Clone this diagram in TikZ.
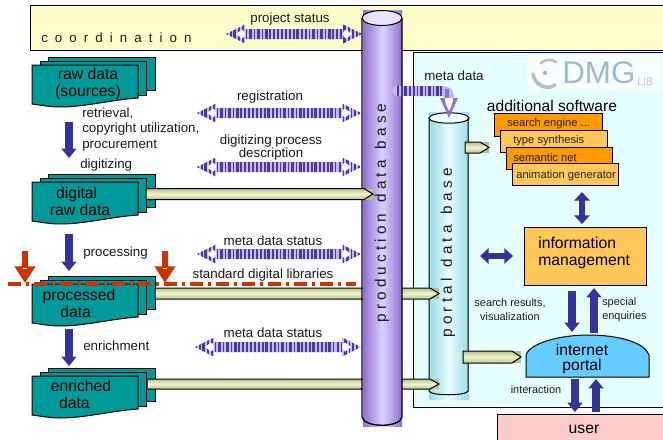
\documentclass[tikz,border=0pt]{standalone}
\usepackage{fontspec}
\setmainfont{Liberation Sans}
\newfontfamily\coordfont[LetterSpace=53]{Liberation Sans}
\newfontfamily\cylfont[LetterSpace=27]{Liberation Sans}
\usetikzlibrary{calc,arrows.meta}
\definecolor{coordfill}{HTML}{FFFFCC}
\definecolor{panelfill}{HTML}{E6FFFF}
\definecolor{teal}{HTML}{009999}
\definecolor{bluearrow}{HTML}{333399}
\definecolor{redline}{HTML}{CC3300}
\definecolor{softorange}{HTML}{FFC65A}
\definecolor{strongorange}{HTML}{FF9900}
\definecolor{portalblue}{HTML}{66CCFF}
\definecolor{userpink}{HTML}{FFCCCC}
\definecolor{stripedark}{HTML}{4B3A99}
\definecolor{stripelight}{HTML}{C8B8F0}
\definecolor{prodedge}{HTML}{9070D0}
\definecolor{prodmid}{HTML}{DCD0FF}
\definecolor{portedge}{HTML}{99DDE6}
\definecolor{portmid}{HTML}{E6FCFF}
\definecolor{pipeedge}{HTML}{B8BF90}
\definecolor{pipemid}{HTML}{F0F6CC}
\definecolor{txt}{HTML}{1A1A1A}
\definecolor{logotext}{HTML}{A0BCC8}
\tikzset{
  fr/.style={draw=black,line width=0.75pt},
  lab/.style={inner sep=0pt,text=txt,font=\fontsize{10}{11.6}\selectfont},
  smalllab/.style={inner sep=0pt,text=txt,font=\fontsize{8.2}{10.5}\selectfont},
  biglab/.style={inner sep=0pt,text=black,font=\fontsize{11.8}{12.8}\selectfont},
  softlab/.style={inner sep=0pt,anchor=west,text=black!85,font=\fontsize{8.4}{10}\selectfont},
  barrow/.style={draw=bluearrow,line width=6pt,-{Triangle[width=11pt,length=7pt]}},
  dbarrow/.style={draw=bluearrow,line width=5.2pt,{Triangle[width=11.5pt,length=6.5pt]}-{Triangle[width=11.5pt,length=6.5pt]}},
  redarrow/.style={draw=redline,line width=5pt,-{Triangle[width=15pt,length=12.5pt]}},
  pipestyle/.style={draw=black,line width=0.75pt,top color=pipeedge,bottom color=pipeedge,middle color=pipemid},
  stripes/.style={dash pattern=on 1.6pt off 1.5pt on 1.2pt off 1.2pt on 2.2pt off 1.3pt on 1.2pt off 1.6pt},
}
\newcommand\docstack[2]{%
  \begin{scope}[shift={(0,#1)}]
    \filldraw[fr,fill=teal] (48,0) rectangle (155,33);
    \filldraw[fr,fill=teal] (40,4) rectangle (146,38);
    \filldraw[fr,fill=teal] (32,8) -- (138,8) -- (138,41) .. controls (110,43) and (85,50) .. (60,50) .. controls (50,50) and (40,48) .. (32,47) -- cycle;
    #2
  \end{scope}}
\newcommand\stripearrow[2]{%
  \begin{scope}
    \clip (#1) -- ($(#1)+(19,-9.5)$) -- ($(#1)+(19,-5)$) -- ($(#2)+(-19,-5)$) -- ($(#2)+(-19,-9.5)$) -- (#2)
      -- ($(#2)+(-19,9.5)$) -- ($(#2)+(-19,5)$) -- ($(#1)+(19,5)$) -- ($(#1)+(19,9.5)$) -- cycle;
    \fill[stripelight] ($(#1)+(0,-10)$) rectangle ($(#2)+(0,10)$);
    \draw[draw=stripedark,line width=15pt,stripes] (#1) -- (#2);
  \end{scope}
  \fill[white] ($(#1)+(10,0)$) -- ($(#1)+(16,-4.5)$) .. controls ($(#1)+(20,-3)$) and ($(#1)+(20,3)$) .. ($(#1)+(16,4.5)$) -- cycle;
  \fill[white] ($(#2)+(-10,0)$) -- ($(#2)+(-16,-4.5)$) .. controls ($(#2)+(-20,-3)$) and ($(#2)+(-20,3)$) .. ($(#2)+(-16,4.5)$) -- cycle;
}
\newcommand\pipe[3]{%
  \fill[pipeedge] ($(#2)+(-9,-#3)$) rectangle ($(#2)+(0,#3)$);
  \path[pipestyle] ($(#1)+(0,-#3)$) -- ($(#2)+(-9,-#3)$) -- (#2) -- ($(#2)+(-9,#3)$) -- ($(#1)+(0,#3)$) -- cycle;
}
\begin{document}
\begin{tikzpicture}[x=0.75pt,y=-0.75pt]
\useasboundingbox (0,0) rectangle (663,439);
\clip (0,0) rectangle (663,439);
\fill[white] (0,0) rectangle (663,439);

% heading remnant, coordination band and right panel
\node[inner sep=0pt,anchor=base,font=\bfseries\fontsize{14}{14}\selectfont] (headfrag) at (135.5,-3) {g};
\filldraw[fr,fill=coordfill] (30,5) rectangle (680,50);
\filldraw[fr,fill=panelfill] (413,52) rectangle (680,407);
\node[inner sep=0pt,anchor=west,text=txt,font=\coordfont\fontsize{10}{12}\selectfont] (coord) at (41,38) {coordination};

% logo
\fill[white!70!panelfill] (527,55) rectangle (662,90);
\draw[black!25,line width=2pt,line cap=round] (541,63) .. controls (545,59) and (552,59) .. (556,62);
\draw[black!25,line width=2.8pt,line cap=round] (533,74) .. controls (534,84) and (546,91) .. (555,85);
\fill[black!30] (545,73) circle (1.6pt);
\node[inner sep=0pt,anchor=west,text=logotext,font=\fontsize{23.5}{24}\selectfont] (dmg) at (562,72.5) {DMG};
\node[inner sep=0pt,anchor=west,text=logotext!75,font=\fontsize{8}{8}\selectfont] (lib) at (637,82) {LIB};

% document stacks
\docstack{57}{\node[biglab,align=center] (raw) at (88,26.5) {raw data\\(sources)};}
\docstack{174}{\node[biglab,align=center] (digital) at (80,27) {digital\hspace*{5pt}\\raw data};}
\docstack{276}{\node[biglab,align=center] (processed) at (79,27) {processed\\data\hspace*{5pt}};}
\docstack{368}{\node[biglab,align=center] (enriched) at (81,26.5) {enriched\\data\hspace*{10pt}};}

% portal cylinder
\shade[left color=portedge,right color=portedge,middle color=portmid,shading=axis] (429,112) rectangle (469,399);
\filldraw[fr,fill=panelfill!60!white] (449,118) ellipse [x radius=15pt,y radius=3.9pt];
\draw[fr] (429,118) -- (429,391) .. controls (430,396) and (467,396) .. (468,391) -- (468,118);
\node[rotate=90,inner sep=0pt,text=txt,font=\cylfont\fontsize{11.5}{12}\selectfont] (portalname) at (448,253) {portal\kern2pt{} data\kern2pt{} base};

% pipes running behind the production cylinder
\coordinate (procA) at (155,293.5); \coordinate (procB) at (439,293.5);
\coordinate (enrA) at (147,384); \coordinate (enrB) at (439,384);
\pipe{procA}{procB}{5.5}
\pipe{enrA}{enrB}{5}

% production cylinder
\shade[left color=prodedge,right color=prodedge,middle color=prodmid,shading=axis] (363,10) rectangle (402,426);
\filldraw[fr,fill=prodmid!60!white] (382,18) ellipse [x radius=15pt,y radius=5.6pt];
\draw[fr,line width=1pt] (362,18) -- (362,417) .. controls (364,428) and (400,428) .. (402,417) -- (402,18);
\node[rotate=90,inner sep=0pt,text=txt,font=\cylfont\fontsize{11.5}{12}\selectfont] (prodname) at (382,213) {production\kern2pt{} data\kern2pt{} base};

% remaining pipes
\coordinate (digA) at (146,194); \coordinate (digB) at (373,194);
\coordinate (softA) at (465,147.5); \coordinate (softB) at (489,147.5);
\coordinate (webA) at (463,357); \coordinate (webB) at (521,357);
\pipe{digA}{digB}{5.5}
\pipe{softA}{softB}{5.5}
\pipe{webA}{webB}{6}

% striped status arrows
\coordinate (psL) at (226,34); \coordinate (psR) at (362,34);
\coordinate (regL) at (197,113); \coordinate (regR) at (361,113);
\coordinate (dpL) at (197,167); \coordinate (dpR) at (361,167);
\coordinate (ms1L) at (197,254); \coordinate (ms1R) at (361,254);
\coordinate (ms2L) at (195,347); \coordinate (ms2R) at (361,347);
\stripearrow{psL}{psR}
\stripearrow{regL}{regR}
\stripearrow{dpL}{dpR}
\stripearrow{ms1L}{ms1R}
\stripearrow{ms2L}{ms2R}

% meta data elbow arrow
\coordinate (mdA) at (397,91); \coordinate (mdC) at (449,91); \coordinate (mdB) at (449,118);
\draw[stripelight,line width=7.5pt,line cap=round,rounded corners=4pt] (mdA) -- (mdC) -- (449,100);
\draw[stripedark,line width=7.5pt,stripes] (mdA) -- (443,91);
\draw[prodedge,line width=3pt] (447,89) -- (447,99);
\fill[prodedge] (440,98) -- (458,98) -- (mdB) -- cycle;
\fill[white] (445,98) -- (453,98) .. controls (453,103) and (451,107) .. (449,111) .. controls (447,107) and (445,103) .. (445,98) -- cycle;

% process arrows
\coordinate (a1) at (69,122); \coordinate (a2) at (69,158);
\coordinate (b1) at (69,234); \coordinate (b2) at (69,271);
\coordinate (c1) at (69,329); \coordinate (c2) at (69,366);
\draw[barrow] (a1) -- (a2);
\draw[barrow] (b1) -- (b2);
\draw[barrow] (c1) -- (c2);

% software boxes
\filldraw[fr,fill=strongorange] (494,113) rectangle (602,136);
\node[softlab] (s1) at (507,123.5) {search engine ...};
\filldraw[fr,fill=softorange] (500,130) rectangle (607,152);
\node[softlab] (s2) at (513,141) {type synthesis};
\filldraw[fr,fill=strongorange] (506,147) rectangle (612,169);
\node[softlab] (s3) at (513,157.5) {semantic net};
\filldraw[fr,fill=softorange] (512,163) rectangle (618,185);
\node[softlab] (s4) at (516,175.5) {animation generator};
\node[inner sep=0pt,text=black,font=\fontsize{11.7}{12}\selectfont] (addsoft) at (552,106) {additional software};

% information management, portal, user
\filldraw[fr,fill=softorange] (524,227) rectangle (646,285);
\node[biglab,align=left,anchor=west] (info) at (538,252.5) {information\\management};
\filldraw[fr,fill=portalblue] (526,377) -- (526,355) .. controls (530,343) and (560,335) .. (588,335) .. controls (620,335) and (645,343) .. (649,355) -- (649,377) -- cycle;
\node[inner sep=0pt,text=black,align=center,font=\fontsize{11.8}{10.8}\selectfont] (web) at (582,359) {internet\\portal};
\filldraw[fr,fill=userpink] (497,414) rectangle (680,445);
\node[biglab] (user) at (584,429) {user};

% arrows of the right part
\coordinate (v1) at (582,192); \coordinate (v2) at (582,224);
\coordinate (h1) at (480,256); \coordinate (h2) at (513,256);
\coordinate (d1) at (572,291); \coordinate (d2) at (572,332);
\coordinate (u1) at (594,333); \coordinate (u2) at (594,288);
\coordinate (e1) at (575,379); \coordinate (e2) at (575,412);
\coordinate (f1) at (596,412); \coordinate (f2) at (596,379);
\draw[dbarrow] (v1) -- (v2);
\draw[dbarrow] (h1) -- (h2);
\draw[barrow] (d1) -- (d2);
\draw[barrow] (u1) -- (u2);
\draw[barrow] (e1) -- (e2);
\draw[barrow] (f1) -- (f2);

% labels
\node[lab] (l1) at (290,19) {project status};
\node[lab] (l2) at (270,97) {registration};
\node[lab,align=center,font=\fontsize{10}{9.8}\selectfont] (l3) at (271,147.5) {digitizing process\\description};
\node[lab,align=left,anchor=west] (l4) at (82,129.5) {retrieval,\\copyright utilization,\\procurement};
\node[lab,anchor=west] (l5) at (80,165) {digitizing};
\node[lab,anchor=west] (l6) at (83,253) {processing};
\node[lab] (l7) at (273,241) {meta data status};
\node[lab] (l8) at (263,275) {standard digital libraries};
\node[lab,anchor=west] (l9) at (83,346) {enrichment};
\node[lab] (l10) at (273,333) {meta data status};
\node[lab] (l11) at (454,76) {meta data};
\node[smalllab,align=center] (l12) at (510,310) {search results,\\visualization};
\node[smalllab,align=left,anchor=west] (l13) at (602,310) {special\\enquiries};
\node[smalllab] (l14) at (536,390) {interaction};

% standard digital libraries line and its markers
\coordinate (r1a) at (25,251); \coordinate (r1b) at (25,283);
\coordinate (r2a) at (165,251); \coordinate (r2b) at (165,283);
\coordinate (lineA) at (8,284); \coordinate (lineB) at (356,284);
\draw[redline,line width=2.4pt,dash pattern=on 10pt off 3.5pt on 2.5pt off 3.5pt] (lineA) -- (lineB);
\draw[redarrow] (r1a) -- (r1b);
\draw[redarrow] (r2a) -- (r2b);
\fill[white] (23,267.5) rectangle (27,269);
\fill[white] (163,267.5) rectangle (167,269);
\end{tikzpicture}
\end{document}
